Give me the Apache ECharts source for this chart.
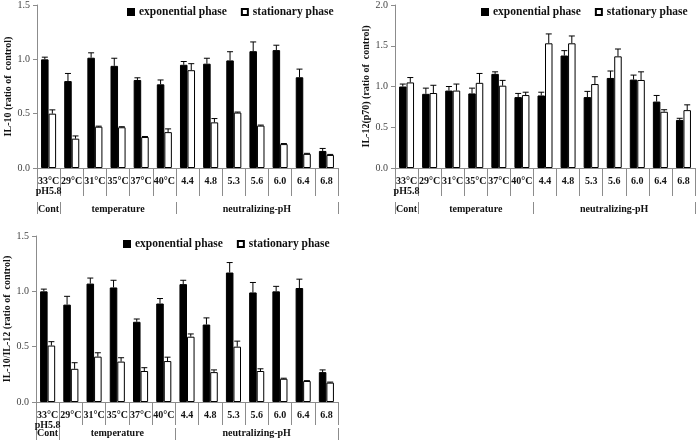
<!DOCTYPE html>
<html><head><meta charset="utf-8">
<script src="https://cdn.jsdelivr.net/npm/echarts@6/dist/echarts.min.js"></script>
<style>html,body{margin:0;padding:0;background:#fff}#c{width:696px;height:447px}</style>
</head><body><div id="c"></div>
<script>
var categories = ['33°C\npH5.8','29°C','31°C','35°C','37°C','40°C','4.4','4.8','5.3','5.6','6.0','6.4','6.8'];
var groupLabels = ['Cont','temperature','neutralizing-pH'];
var groupBounds = [0,1,6,13];
var seriesNames = ['exponential phase','stationary phase'];

var il10Exp  = [1.00,0.80,1.015,0.94,0.81,0.77,0.95,0.96,0.99,1.075,1.085,0.835,0.157];
var il10ExpErr = [0.02,0.07,0.045,0.07,0.02,0.04,0.03,0.05,0.08,0.085,0.045,0.075,0.023];
var il10Sta  = [0.50,0.27,0.38,0.375,0.285,0.33,0.90,0.42,0.51,0.39,0.22,0.13,0.12];
var il10StaErr = [0.035,0.025,0.005,0.005,0.005,0.03,0.06,0.035,0.005,0.005,0.005,0.005,0.005];

var il12Exp  = [1.00,0.91,0.95,0.915,1.155,0.87,0.89,1.38,0.87,1.105,1.085,0.815,0.59];
var il12ExpErr = [0.03,0.07,0.05,0.065,0.025,0.045,0.04,0.06,0.07,0.085,0.055,0.075,0.02];
var il12Sta  = [1.05,0.92,0.95,1.045,1.01,0.895,1.53,1.53,1.03,1.37,1.08,0.69,0.71];
var il12StaErr = [0.06,0.095,0.08,0.115,0.065,0.035,0.115,0.09,0.09,0.09,0.10,0.025,0.065];

var ratioExp = [1.00,0.88,1.07,1.035,0.725,0.89,1.065,0.70,1.17,0.99,1.00,1.03,0.27];
var ratioExpErr = [0.02,0.075,0.05,0.065,0.025,0.045,0.035,0.06,0.09,0.09,0.045,0.08,0.02];
var ratioSta = [0.51,0.30,0.41,0.365,0.28,0.37,0.59,0.27,0.50,0.28,0.21,0.19,0.175];
var ratioStaErr = [0.035,0.055,0.035,0.035,0.03,0.035,0.025,0.02,0.05,0.02,0.005,0.003,0.005];

var yTitles = ['IL-10 (ratio of  control)','IL-12(p70) (ratio of  control)','IL-10/IL-12 (ratio of  control)'];
var yMax = [1.5, 2.0, 1.5];

var FONT = 'Liberation Serif';
var AX = '#8c8c8c';

var panels = [
  {exp: il10Exp, expErr: il10ExpErr, sta: il10Sta, staErr: il10StaErr, grid:{left:37, top:3, width:301, height:165},
   legend:{left:127, top:6}, lab:{margin:8, tick:28, off:34, gmargin:2}},
  {exp: il12Exp, expErr: il12ExpErr, sta: il12Sta, staErr: il12StaErr, grid:{left:395, top:3, width:300, height:165},
   legend:{left:481, top:6}, lab:{margin:8, tick:28, off:34, gmargin:2}},
  {exp: ratioExp, expErr: ratioExpErr, sta: ratioSta, staErr: ratioStaErr, grid:{left:36, top:236, width:302, height:166},
   legend:{left:123, top:238}, lab:{margin:8, tick:23, off:26, gmargin:0}}
];

function errRender(sign){
  return function(params, api){
    var x = api.value(0), v = api.value(1), e = api.value(2);
    var base = api.coord([x, v]);
    var top = api.coord([x, v + e]);
    var band = api.size([1, 0])[0];
    var bw = band * 0.325;
    var cx = base[0] + sign * bw / 2;
    var half = 3;
    return {type:'group', children:[
      {type:'line', shape:{x1:cx, y1:base[1], x2:cx, y2:top[1]}, style:{stroke:'#000', lineWidth:1}},
      {type:'line', shape:{x1:cx-half, y1:top[1], x2:cx+half, y2:top[1]}, style:{stroke:'#000', lineWidth:1}}
    ]};
  };
}

var grids = [], xAxes = [], yAxes = [], series = [], legends = [];
var groupCenters = [];
for (var g = 0; g < groupLabels.length; g++) groupCenters.push((groupBounds[g] + groupBounds[g+1]) / 2);

panels.forEach(function(p, i){
  grids.push(p.grid);
  xAxes.push({
    type:'category', gridIndex:i, data:categories,
    axisLine:{lineStyle:{color:AX}},
    axisTick:{show:true, interval:0, length:p.lab.tick, lineStyle:{color:AX}},
    axisLabel:{interval:0, margin:p.lab.margin, fontFamily:FONT, fontWeight:'bold', fontSize:10, color:'#111', lineHeight:10, align:'center'}
  });
  xAxes.push({
    type:'value', gridIndex:i, min:0, max:13, position:'bottom', offset:p.lab.off,
    axisLine:{show:false}, splitLine:{show:false},
    axisTick:{show:true, inside:false, length:12, customValues:groupBounds, lineStyle:{color:AX}},
    axisLabel:{customValues:groupCenters, margin:p.lab.gmargin, fontFamily:FONT, fontWeight:'bold', fontSize:10, color:'#111',
      formatter:function(v){ var k = groupCenters.indexOf(v); return k >= 0 ? groupLabels[k] : ''; }}
  });
  yAxes.push({
    type:'value', gridIndex:i, min:0, max:yMax[i], interval:0.5,
    name: yTitles[i], nameLocation:'middle', nameGap:22,
    nameTextStyle:{fontFamily:FONT, fontWeight:'bold', fontSize:10, color:'#111'},
    axisLine:{show:true, lineStyle:{color:AX}},
    axisTick:{show:true, length:4, lineStyle:{color:AX}},
    splitLine:{show:false},
    axisLabel:{fontFamily:FONT, fontSize:10, color:'#444', margin:7, formatter:function(v){return v.toFixed(1);}}
  });
  var xi = i * 2;
  series.push({name:seriesNames[0], type:'bar', xAxisIndex:xi, yAxisIndex:i, data:p.exp, barWidth:'32.5%', barGap:'0%',
    itemStyle:{color:'#000', borderColor:'#000', borderWidth:1}, animation:false});
  series.push({name:seriesNames[1], type:'bar', xAxisIndex:xi, yAxisIndex:i, data:p.sta, barWidth:'32.5%', barGap:'0%',
    itemStyle:{color:'#fff', borderColor:'#000', borderWidth:1}, animation:false});
  series.push({name:'errExp'+i, type:'custom', xAxisIndex:xi, yAxisIndex:i, renderItem:errRender(-1),
    data:p.exp.map(function(v,k){return [k, v, p.expErr[k]];}), z:5, animation:false});
  series.push({name:'errSta'+i, type:'custom', xAxisIndex:xi, yAxisIndex:i, renderItem:errRender(1),
    data:p.sta.map(function(v,k){return [k, v, p.staErr[k]];}), z:5, animation:false});
  legends.push({left:p.legend.left, top:p.legend.top, width:260, padding:0, data:seriesNames, icon:'rect', itemWidth:6, itemHeight:6, itemGap:14,
    textStyle:{fontFamily:FONT, fontWeight:'bold', fontSize:11.5, color:'#111'}, selectedMode:false});
});

var chart = echarts.init(document.getElementById('c'), null, {renderer:'canvas'});
chart.setOption({
  animation:false,
  backgroundColor:'#fff',
  grid:grids, xAxis:xAxes, yAxis:yAxes, series:series, legend:legends
});
</script>
</body></html>
